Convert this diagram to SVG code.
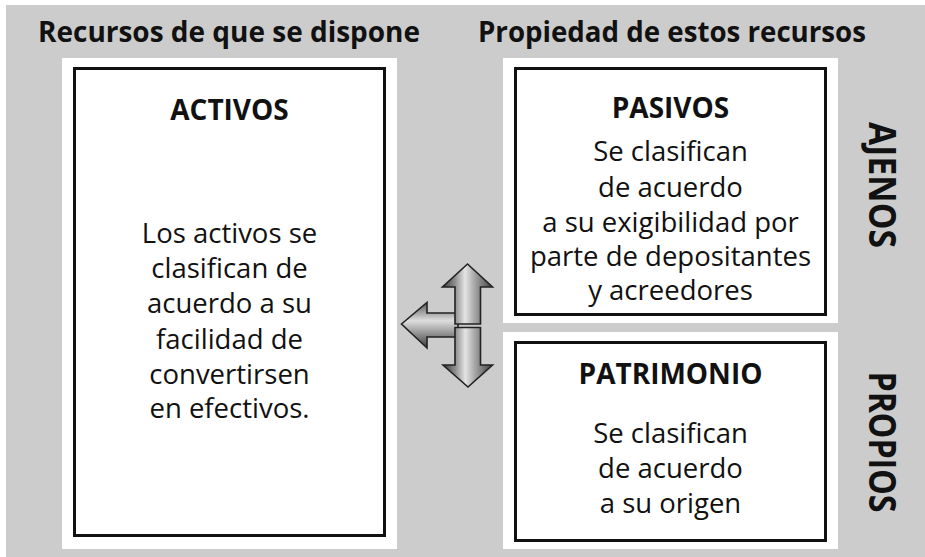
<svg xmlns="http://www.w3.org/2000/svg" width="925" height="557" viewBox="0 0 925 557">
<style>
.title{font-family:"Open Sans","Noto Sans",sans-serif;font-weight:bold;font-size:28px;fill:#111;text-anchor:middle}
.head{font-family:"Open Sans","Noto Sans",sans-serif;font-weight:bold;font-size:28px;fill:#111;text-anchor:middle}
.body{font-family:"Open Sans","Noto Sans",sans-serif;font-size:27.5px;fill:#111;text-anchor:middle}
.side{font-family:"Open Sans","Noto Sans",sans-serif;font-weight:bold;font-size:37px;fill:#111;text-anchor:middle}
.panel{fill:#ffffff}
.box{fill:#ffffff;stroke:#111;stroke-width:3}
.arr{stroke:#222222;stroke-width:1.6;stroke-linejoin:miter}
</style>
<defs>
<linearGradient id="gv" x1="0" y1="0" x2="1" y2="0">
<stop offset="0" stop-color="#3c3c3c"/>
<stop offset="0.25" stop-color="#8e8e8e"/>
<stop offset="0.45" stop-color="#e4e4e4"/>
<stop offset="0.65" stop-color="#a4a4a4"/>
<stop offset="1" stop-color="#404040"/>
</linearGradient>
<linearGradient id="gh" x1="0" y1="0" x2="0" y2="1">
<stop offset="0" stop-color="#5a5a5a"/>
<stop offset="0.4" stop-color="#dedede"/>
<stop offset="0.65" stop-color="#9c9c9c"/>
<stop offset="1" stop-color="#3a3a3a"/>
</linearGradient>
</defs>
<rect x="0" y="0" width="925" height="557" fill="#ffffff"/>
<rect x="6" y="5" width="919" height="552" fill="#cccccc"/>
<text class="title" x="229" y="42" textLength="382" lengthAdjust="spacingAndGlyphs">Recursos de que se dispone</text>
<text class="title" x="672" y="42" textLength="388" lengthAdjust="spacingAndGlyphs">Propiedad de estos recursos</text>
<g id="activos">
<rect class="panel" x="62" y="58" width="335" height="491"/>
<rect class="box" x="74.5" y="68.5" width="310" height="467"/>
<text class="head" x="229.5" y="120">ACTIVOS</text>
<text class="body" x="229.5" y="243">Los activos se</text>
<text class="body" x="229.5" y="278">clasifican de</text>
<text class="body" x="229.5" y="313">acuerdo a su</text>
<text class="body" x="229.5" y="349">facilidad de</text>
<text class="body" x="229.5" y="384">convertirsen</text>
<text class="body" x="229.5" y="418">en efectivos.</text>
</g>
<g id="pasivos">
<rect class="panel" x="503" y="58" width="335" height="265"/>
<rect class="box" x="515.5" y="68.5" width="310" height="246"/>
<text class="head" x="670.5" y="118">PASIVOS</text>
<text class="body" x="670.5" y="161">Se clasifican</text>
<text class="body" x="670.5" y="196.5">de acuerdo</text>
<text class="body" x="670.5" y="231.5">a su exigibilidad por</text>
<text class="body" x="670.5" y="266">parte de depositantes</text>
<text class="body" x="670.5" y="300">y acreedores</text>
</g>
<g id="patrimonio">
<rect class="panel" x="503" y="332" width="335" height="217"/>
<rect class="box" x="515.5" y="342.5" width="310" height="198"/>
<text class="head" x="670.5" y="384">PATRIMONIO</text>
<text class="body" x="670.5" y="443">Se clasifican</text>
<text class="body" x="670.5" y="478">de acuerdo</text>
<text class="body" x="670.5" y="513">a su origen</text>
</g>
<g id="ajenos">
<text class="side" transform="translate(869 185) rotate(90)" textLength="126" lengthAdjust="spacingAndGlyphs">AJENOS</text>
</g>
<g id="propios">
<text class="side" transform="translate(869 442) rotate(90)" textLength="141" lengthAdjust="spacingAndGlyphs">PROPIOS</text>
</g>
<g id="connectors">
<polygon class="arr" fill="url(#gh)" points="401.5,324 427,302.5 427,313 458,313 458,337 427,337 427,348"/>
<polygon class="arr" fill="url(#gv)" points="467.5,264 492.5,287 480.5,287 480.5,324 455,324 455,287 442.5,287"/>
<polygon class="arr" fill="url(#gv)" points="455,327.5 480.5,327.5 480.5,365 492.5,365 468,387 443,365 455,365"/>
</g>
</svg>
